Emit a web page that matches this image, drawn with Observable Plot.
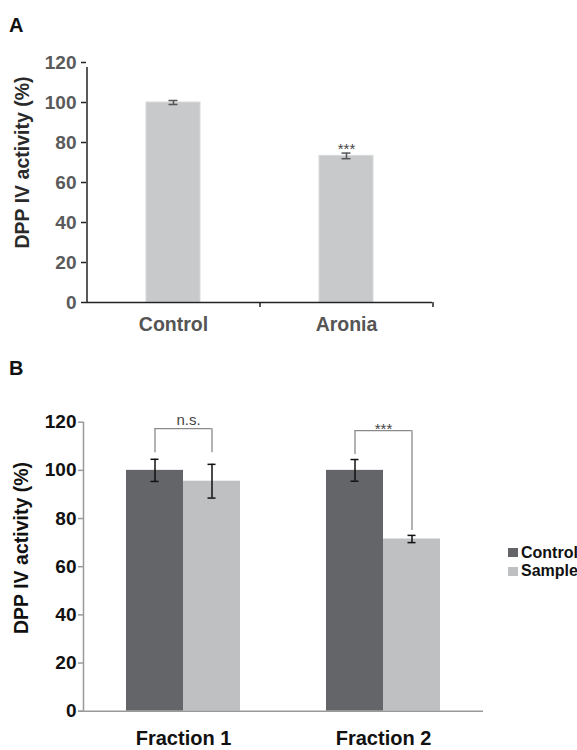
<!DOCTYPE html>
<html><head><meta charset="utf-8">
<script src="https://cdn.jsdelivr.net/npm/d3@7"></script>
<script src="https://cdn.jsdelivr.net/npm/@observablehq/plot@0.6"></script>
<style>
body{margin:0;background:#fff;font-family:"Liberation Sans",Arial,sans-serif;}
#wrap{position:relative;width:577px;height:750px;overflow:hidden;background:#fff;}
.panel{position:absolute;left:0;z-index:1;}
.lab{position:absolute;font-weight:bold;font-size:20px;line-height:20px;color:#111;z-index:5;}
.sw{position:absolute;width:10px;height:9px;z-index:5;}
.lt{position:absolute;font-weight:bold;font-size:16px;line-height:16px;color:#111;white-space:nowrap;z-index:5;}
</style></head><body>
<div id="wrap">
  <div id="chartA" class="panel" style="top:0px"></div>
  <div id="chartB" class="panel" style="top:380px"></div>
  <div class="lab" style="left:9px;top:15px">A</div>
  <div class="lab" style="left:9px;top:358px">B</div>
  <div id="legend"></div>
</div>
<script>
// ---- Panel A data ----
const groupsA = ["Control", "Aronia"];
const valuesA = [100, 73.3];
const errorsA = [1.0, 1.4];
const sigA = ["", "***"];

// ---- Panel B data ----
const fractions = ["Fraction 1", "Fraction 2"];
const series = ["Control", "Sample"];
const controlValues = [100, 100];
const controlErrors = [4.6, 4.5];
const sampleValues = [95.5, 71.5];
const sampleErrors = [7.0, 1.5];
const sigLabels = ["n.s.", "***"];
const bracketTop = [117.3, 116.5];
const bracketLegControl = [107.3, 106.6];
const bracketLegSample = [107.3, 75];

const yTicks = [0, 20, 40, 60, 80, 100, 120];
const yLabel = "DPP IV activity (%)";
const colors = {Control: "#646569", Sample: "#bfc0c2"};
const FONT = "'Liberation Sans', Arial, sans-serif";

// ---------------- Panel A ----------------
const W = 577;
const aLeft = 86, aRight = 432, aTop = 62, aZero = 302, aH = 340;
const stepA = (aRight - aLeft) / groupsA.length;
const bwA = 54;
const dataA = groupsA.map((g, i) => ({group: g, value: valuesA[i], err: errorsA[i], sig: sigA[i]}));
const capsA = dataA.flatMap(d => [{group: d.group, y: d.value - d.err}, {group: d.group, y: d.value + d.err}]);
const capInsetA = (bwA - 9) / 2;

const plotA = Plot.plot({
  width: W, height: aH,
  marginLeft: aLeft, marginRight: W - aRight, marginTop: aTop, marginBottom: aH - aZero,
  style: {fontFamily: FONT, background: "white", overflow: "visible"},
  x: {domain: groupsA, paddingInner: 0.688, paddingOuter: 0.344},
  y: {domain: [0, 120]},
  marks: [
    Plot.barY(dataA, {x: "group", y: "value", fill: "#c8c9cb", stroke: "#d8d9da", strokeWidth: 1}),
    Plot.ruleX(dataA, {x: "group", y1: d => d.value - d.err, y2: d => d.value + d.err, stroke: "#555", strokeWidth: 1.5}),
    Plot.tickY(capsA, {x: "group", y: "y", stroke: "#555", strokeWidth: 1.5, insetLeft: capInsetA, insetRight: capInsetA}),
    Plot.text(dataA.filter(d => d.sig), {x: "group", y: d => d.value + d.err, text: "sig", dy: -4, fontSize: 15, fill: "#444", lineAnchor: "middle"}),
    Plot.ruleY([0], {stroke: "#222", strokeWidth: 1.5}),
    Plot.ruleX([groupsA[0]], {x: d => d, y1: 0, y2: 120, dx: -stepA / 2, insetBottom: -5, stroke: "#222", strokeWidth: 1.5}),
    Plot.ruleX(groupsA, {x: d => d, y1: 0, y2: 0, dx: stepA / 2, insetBottom: -5, stroke: "#222", strokeWidth: 1.5}),
    Plot.axisY({ticks: yTicks, tickSize: 5, tickPadding: 5, stroke: "#222", strokeWidth: 1.5, fill: "#5a5a5a", fontSize: 19, fontWeight: "bold", label: null}),
    Plot.axisX({tickSize: 0, tickPadding: 15, fill: "#555", fontSize: 19.5, fontWeight: "bold", label: null}),
    Plot.text([yLabel], {text: d => d, frameAnchor: "left", rotate: -90, dx: -64, dy: -20, fontSize: 19.5, fontWeight: "bold", fill: "#2a2a2a", textAnchor: "middle", lineAnchor: "middle"})
  ]
});
document.getElementById("chartA").appendChild(plotA);

// ---------------- Panel B ----------------
const bLeft = 83, bRight = 483, bTop = 41.7, bZero = 330.7, bH = 370;
const stepB = (bRight - bLeft) / fractions.length;
const bwB = 114, half = bwB / 2, q = bwB / 4;
const dataB = fractions.map((f, i) => ({
  fraction: f,
  cv: controlValues[i], ce: controlErrors[i],
  sv: sampleValues[i], se: sampleErrors[i],
  sig: sigLabels[i], top: bracketTop[i], legC: bracketLegControl[i], legS: bracketLegSample[i]
}));
const capsC = dataB.flatMap(d => [{fraction: d.fraction, y: d.cv - d.ce}, {fraction: d.fraction, y: d.cv + d.ce}]);
const capsS = dataB.flatMap(d => [{fraction: d.fraction, y: d.sv - d.se}, {fraction: d.fraction, y: d.sv + d.se}]);
const capW = 8;
const capNear = q - capW / 2, capFar = bwB - q - capW / 2;

const plotB = Plot.plot({
  width: W, height: bH,
  marginLeft: bLeft, marginRight: W - bRight, marginTop: bTop, marginBottom: bH - bZero,
  style: {fontFamily: FONT, background: "white", overflow: "visible"},
  x: {domain: fractions, paddingInner: 0.43, paddingOuter: 0.215},
  y: {domain: [0, 120]},
  marks: [
    Plot.barY(dataB, {x: "fraction", y: "cv", fill: colors.Control, insetRight: half}),
    Plot.barY(dataB, {x: "fraction", y: "sv", fill: colors.Sample, insetLeft: half}),
    Plot.ruleX(dataB, {x: "fraction", y1: d => d.cv - d.ce, y2: d => d.cv + d.ce, dx: -q, stroke: "#111", strokeWidth: 1.5}),
    Plot.ruleX(dataB, {x: "fraction", y1: d => d.sv - d.se, y2: d => d.sv + d.se, dx: q, stroke: "#111", strokeWidth: 1.5}),
    Plot.tickY(capsC, {x: "fraction", y: "y", stroke: "#111", strokeWidth: 1.5, insetLeft: capNear, insetRight: capFar}),
    Plot.tickY(capsS, {x: "fraction", y: "y", stroke: "#111", strokeWidth: 1.5, insetLeft: capFar, insetRight: capNear}),
    // significance brackets
    Plot.ruleY(dataB, {x1: "fraction", x2: "fraction", y: "top", insetLeft: q, insetRight: q, stroke: "#8a8a8a", strokeWidth: 1.3}),
    Plot.ruleX(dataB, {x: "fraction", y1: "legC", y2: "top", dx: -q, stroke: "#8a8a8a", strokeWidth: 1.3}),
    Plot.ruleX(dataB, {x: "fraction", y1: "legS", y2: "top", dx: q, stroke: "#8a8a8a", strokeWidth: 1.3}),
    Plot.text(dataB.filter(d => d.sig === "n.s."), {x: "fraction", y: "top", text: "sig", dy: -8.5, dx: 5, fontSize: 15, fill: "#444", lineAnchor: "middle"}),
    Plot.text(dataB.filter(d => d.sig !== "n.s."), {x: "fraction", y: "top", text: "sig", dy: -1, fontSize: 15, fill: "#444", lineAnchor: "middle"}),
    // axes
    Plot.ruleY([0], {stroke: "#999", strokeWidth: 1.5, insetLeft: -5}),
    Plot.ruleX([fractions[0]], {x: d => d, y1: 0, y2: 120, dx: -stepB / 2, stroke: "#999", strokeWidth: 1.5}),
    Plot.axisY({ticks: yTicks, tickSize: 5, tickPadding: 2, stroke: "#999", strokeWidth: 1.5, fill: "#111", fontSize: 19, fontWeight: "bold", label: null}),
    Plot.axisX({tickSize: 0, tickPadding: 20, fill: "#111", fontSize: 20, fontWeight: "bold", label: null}),
    Plot.text([yLabel], {text: d => d, frameAnchor: "left", rotate: -90, dx: -62, dy: -18.7, fontSize: 19.5, fontWeight: "bold", fill: "#111", textAnchor: "middle", lineAnchor: "middle"})
  ]
});
document.getElementById("chartB").appendChild(plotB);

// ---------------- Legend (panel B) ----------------
const legend = document.getElementById("legend");
series.forEach((s, i) => {
  const sw = document.createElement("div");
  sw.className = "sw";
  sw.style.left = "508px";
  sw.style.top = (548 + i * 19) + "px";
  sw.style.background = colors[s];
  legend.appendChild(sw);
  const t = document.createElement("div");
  t.className = "lt";
  t.style.left = "521px";
  t.style.top = (544.5 + i * 18.5) + "px";
  t.textContent = s;
  legend.appendChild(t);
});
</script>
</body></html>
